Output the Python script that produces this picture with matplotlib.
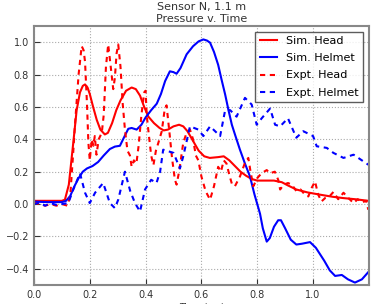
import matplotlib
matplotlib.use('Agg')
import matplotlib.pyplot as plt

# simulated head
sim_head_t = [0.0, 0.05, 0.10, 0.111, 0.125, 0.141, 0.153, 0.165, 0.175, 0.183, 0.192, 0.20, 0.212,
              0.225, 0.238, 0.254, 0.265, 0.28, 0.295, 0.31, 0.33, 0.35, 0.365, 0.38, 0.395, 0.41,
              0.43, 0.45, 0.465, 0.48, 0.50, 0.52, 0.535, 0.55, 0.57, 0.59, 0.61, 0.63, 0.66, 0.68,
              0.70, 0.72, 0.74, 0.76, 0.78, 0.80, 0.83, 0.86, 0.888, 0.91, 0.94, 0.98, 1.025, 1.07,
              1.108, 1.15, 1.198]
sim_head_p = [0.02, 0.02, 0.02, 0.027, 0.12, 0.38, 0.58, 0.69, 0.73, 0.739, 0.72, 0.68, 0.60,
              0.52, 0.46, 0.43, 0.44, 0.50, 0.58, 0.64, 0.70, 0.72, 0.71, 0.67, 0.60, 0.54,
              0.50, 0.47, 0.455, 0.46, 0.48, 0.49, 0.48, 0.45, 0.39, 0.33, 0.295, 0.285, 0.29, 0.295,
              0.27, 0.235, 0.20, 0.175, 0.155, 0.145, 0.145, 0.145, 0.135, 0.115, 0.09, 0.072, 0.058, 0.045,
              0.037, 0.03, 0.02]

# simulated helmet
sim_helm_t = [0.0, 0.05, 0.10, 0.115, 0.13, 0.145, 0.16, 0.175, 0.19, 0.21, 0.23, 0.25, 0.272, 0.29,
              0.308, 0.325, 0.338, 0.35, 0.368, 0.385, 0.40, 0.42, 0.44, 0.455, 0.47, 0.487, 0.50,
              0.511, 0.525, 0.547, 0.57, 0.59, 0.607, 0.62, 0.631, 0.645, 0.66, 0.672, 0.685, 0.697,
              0.709, 0.722, 0.738, 0.756, 0.774, 0.79, 0.80, 0.81, 0.82, 0.834, 0.845, 0.86, 0.875,
              0.885, 0.90, 0.92, 0.94, 0.96, 0.989, 1.01, 1.04, 1.06, 1.079, 1.103, 1.125, 1.15,
              1.175, 1.198]
sim_helm_p = [0.015, 0.012, 0.012, 0.02, 0.05, 0.11, 0.16, 0.20, 0.22, 0.235, 0.26, 0.30, 0.34, 0.355,
              0.36, 0.42, 0.465, 0.47, 0.46, 0.49, 0.535, 0.58, 0.62, 0.68, 0.76, 0.82, 0.815,
              0.805, 0.84, 0.925, 0.975, 1.005, 1.017, 1.01, 0.997, 0.94, 0.86, 0.77, 0.677, 0.58,
              0.49, 0.42, 0.336, 0.25, 0.17, 0.06, 0.0, -0.06, -0.15, -0.232, -0.21, -0.14, -0.10,
              -0.10, -0.15, -0.22, -0.25, -0.245, -0.235, -0.27, -0.35, -0.41, -0.444, -0.438, -0.465, -0.485,
              -0.465, -0.42]

# experiment head
expt_head_t = [0.0, 0.02, 0.04, 0.06, 0.08, 0.10, 0.12, 0.13, 0.14, 0.147, 0.16, 0.171, 0.178, 0.183,
               0.19, 0.195, 0.20, 0.207, 0.213, 0.218, 0.224, 0.232, 0.243, 0.25, 0.258, 0.266, 0.275,
               0.284, 0.29, 0.296, 0.302, 0.31, 0.318, 0.326, 0.335, 0.344, 0.35, 0.358, 0.367, 0.375,
               0.385, 0.395, 0.40, 0.404, 0.412, 0.42, 0.428, 0.437, 0.446, 0.458, 0.468, 0.475, 0.485,
               0.495, 0.505, 0.511, 0.52, 0.535, 0.547, 0.559, 0.57, 0.58, 0.589, 0.60, 0.615, 0.631,
               0.645, 0.66, 0.67, 0.68, 0.69, 0.70, 0.71, 0.72, 0.738, 0.755, 0.768, 0.776, 0.786, 0.80,
               0.815, 0.834, 0.845, 0.863, 0.875, 0.882, 0.895, 0.91, 0.924, 0.94, 0.955, 0.97, 0.983,
               0.995, 1.007, 1.018, 1.03, 1.045, 1.06, 1.073, 1.09, 1.109, 1.125, 1.145, 1.16, 1.175,
               1.19, 1.198]
expt_head_p = [0.01, 0.0, -0.01, 0.0, -0.01, 0.0, -0.01, 0.05, 0.30, 0.49, 0.80, 0.976, 0.95, 0.88,
               0.62, 0.38, 0.27, 0.40, 0.36, 0.42, 0.305, 0.40, 0.44, 0.55, 0.85, 0.986, 0.85,
               0.71, 0.78, 0.93, 0.986, 0.85, 0.62, 0.46, 0.33, 0.30, 0.23, 0.27, 0.25, 0.36,
               0.55, 0.69, 0.70, 0.55, 0.42, 0.30, 0.24, 0.33, 0.38, 0.45, 0.58, 0.61, 0.45,
               0.28, 0.15, 0.12, 0.20, 0.38, 0.44, 0.46, 0.40, 0.30, 0.27, 0.17, 0.08, 0.027,
               0.11, 0.23, 0.20, 0.27, 0.25, 0.18, 0.12, 0.11, 0.17, 0.25, 0.285, 0.20, 0.11, 0.16,
               0.19, 0.21, 0.19, 0.20, 0.15, 0.09, 0.12, 0.13, 0.12, 0.08, 0.09, 0.06, 0.047,
               0.10, 0.14, 0.06, 0.016, 0.04, 0.05, 0.075, 0.03, 0.07, 0.04, 0.006, 0.03, 0.01,
               0.02, -0.035]

# experiment helmet
expt_helm_t = [0.0, 0.02, 0.04, 0.06, 0.08, 0.10, 0.123, 0.141, 0.165, 0.183, 0.20, 0.219, 0.248, 0.272,
               0.29, 0.302, 0.326, 0.345, 0.362, 0.38, 0.398, 0.42, 0.439, 0.452, 0.463, 0.50, 0.523,
               0.535, 0.559, 0.589, 0.607, 0.631, 0.667, 0.685, 0.703, 0.726, 0.756, 0.78, 0.798, 0.816,
               0.846, 0.864, 0.882, 0.91, 0.94, 0.965, 1.0, 1.013, 1.049, 1.073, 1.109, 1.145, 1.18, 1.198]
expt_helm_p = [0.0, 0.01, -0.01, 0.005, -0.005, 0.0, 0.006, 0.09, 0.19, 0.07, 0.006, 0.07, 0.13, 0.006,
               -0.025, 0.027, 0.20, 0.08, 0.006, -0.046, 0.09, 0.15, 0.13, 0.20, 0.336, 0.316, 0.22,
               0.295, 0.48, 0.46, 0.42, 0.48, 0.42, 0.58, 0.58, 0.54, 0.656, 0.615, 0.49, 0.53,
               0.59, 0.49, 0.48, 0.53, 0.41, 0.45, 0.42, 0.357, 0.347, 0.316, 0.285, 0.305, 0.264, 0.243]

plt.rcParams['font.family'] = 'DejaVu Sans'
fig = plt.figure(figsize=(3.73, 3.04), dpi=100)
ax = fig.add_axes([0.091, 0.0625, 0.898, 0.852])

dash = (0, (2.5, 2.2))
ax.plot(sim_head_t, sim_head_p, color='r', lw=1.5, label='Sim. Head')
ax.plot(sim_helm_t, sim_helm_p, color='b', lw=1.5, label='Sim. Helmet')
ax.plot(expt_head_t, expt_head_p, color='r', lw=1.5, ls=dash, label='Expt. Head')
ax.plot(expt_helm_t, expt_helm_p, color='b', lw=1.5, ls=dash, label='Expt. Helmet')

ax.set_xlim(0, 1.2)
ax.set_ylim(-0.5, 1.1)
ax.set_xticks([0.0, 0.2, 0.4, 0.6, 0.8, 1.0])
ax.set_yticks([-0.4, -0.2, 0.0, 0.2, 0.4, 0.6, 0.8, 1.0])
ax.tick_params(direction='in', labelsize=7, colors='#333333', length=4)
ax.grid(True, ls=':', color='#aaaaaa', lw=0.8)
for s in ax.spines.values():
    s.set_color('#888888')
    s.set_linewidth(1.5)

ax.set_title('Sensor N, 1.1 m\nPressure v. Time', fontsize=8, color='#333333', pad=3, linespacing=1.25)
ax.set_xlabel('Time (ms)', fontsize=6.5, color='#333333', labelpad=2)
ax.set_ylabel('Normalized Pressure', fontsize=6.5, color='#333333', labelpad=3)

leg = ax.legend(loc='upper right', fontsize=8, handlelength=1.6, labelspacing=0.65,
                borderaxespad=0.5, fancybox=False)
leg.get_frame().set_edgecolor('#333333')

fig.savefig('out.png', dpi=100)
